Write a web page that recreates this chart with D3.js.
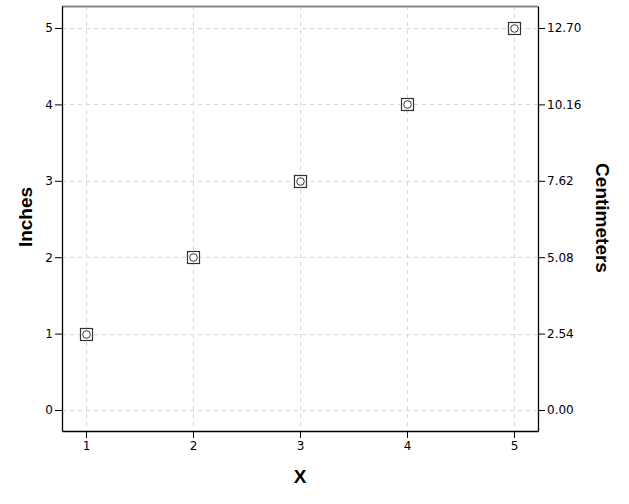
<!DOCTYPE html>
<html>
<head>
<meta charset="utf-8">
<script src="https://cdn.jsdelivr.net/npm/d3@7"></script>
<style>
  body { margin: 0; background: #fff; }
  .tick text { font-family: "DejaVu Sans", sans-serif; font-size: 12px; fill: #000; }
  .title { font-family: "Liberation Sans", Arial, sans-serif; font-size: 19px; font-weight: bold; fill: #000; }
</style>
</head>
<body>
<div id="chart"></div>
<script>
var xValues = [1, 2, 3, 4, 5];
var inches = [1, 2, 3, 4, 5];
var xTicks = [1, 2, 3, 4, 5];
var inchTicks = [0, 1, 2, 3, 4, 5];
var cmTicks = [0, 2.54, 5.08, 7.62, 10.16, 12.70];

var width = 629, height = 504;
var margin = { top: 6, right: 91, bottom: 73, left: 62 };
var w = width - margin.left - margin.right,
    h = height - margin.top - margin.bottom;

var svg = d3.select("#chart")
    .append("svg")
    .attr("width", width)
    .attr("height", height);

var g = svg.append("g")
    .attr("transform", `translate(${margin.left}, ${margin.top})`);

var x = d3.scaleLinear().domain([0.776, 5.224]).range([0, w]);
var y = d3.scaleLinear().domain([-0.275, 5.288]).range([h, 0]);
var y2 = d3.scaleLinear().domain([-0.275 * 2.54, 5.288 * 2.54]).range([h, 0]);

// grid
g.append("g").selectAll("line")
    .data(inchTicks)
    .join("line")
    .attr("x1", 0).attr("x2", w)
    .attr("y1", d => Math.round(y(d)) + 0.5)
    .attr("y2", d => Math.round(y(d)) + 0.5)
    .attr("stroke", "#d8d8d8")
    .attr("stroke-dasharray", "4,4");
g.append("g").selectAll("line")
    .data(xTicks)
    .join("line")
    .attr("y1", 0).attr("y2", h)
    .attr("x1", d => Math.round(x(d)) + 0.5)
    .attr("x2", d => Math.round(x(d)) + 0.5)
    .attr("stroke", "#d8d8d8")
    .attr("stroke-dasharray", "4,4");

// frame top
g.append("line").attr("x1", 0).attr("x2", w).attr("y1", 0.5).attr("y2", 0.5)
    .attr("stroke", "#888").attr("stroke-width", 2);

var xAxis = g.append("g")
    .attr("transform", `translate(0, ${h})`)
    .call(d3.axisBottom(x).tickValues(xTicks).tickFormat(d3.format("d")).tickSize(7).tickSizeOuter(0).tickPadding(3));
var yAxis = g.append("g")
    .call(d3.axisLeft(y).tickValues(inchTicks).tickFormat(d3.format("d")).tickSize(7).tickSizeOuter(0).tickPadding(2));
var yAxis2 = g.append("g")
    .attr("transform", `translate(${w}, 0)`)
    .call(d3.axisRight(y2).tickValues(cmTicks).tickFormat(d3.format(".2f")).tickSize(7).tickSizeOuter(0).tickPadding(2));

[xAxis, yAxis, yAxis2].forEach(function (a) {
    a.selectAll("path.domain").attr("stroke", "#000").attr("stroke-width", 1.3);
    a.selectAll(".tick line").attr("stroke", "#000");
});

// points
var pts = g.append("g").selectAll("g")
    .data(xValues)
    .join("g")
    .attr("transform", (d, i) => `translate(${Math.round(x(d)) + 0.5}, ${Math.round(y(inches[i])) + 0.5})`);
pts.append("rect")
    .attr("x", -6).attr("y", -6).attr("width", 12).attr("height", 12)
    .attr("fill", "#fff").attr("stroke", "#333").attr("stroke-width", 1.2);
pts.append("circle")
    .attr("r", 3.8)
    .attr("fill", "none").attr("stroke", "#333").attr("stroke-width", 1);

// titles
svg.append("text").attr("class", "title")
    .attr("x", margin.left + w / 2).attr("y", 483)
    .attr("text-anchor", "middle").text("X");
svg.append("text").attr("class", "title")
    .attr("transform", `translate(32, ${margin.top + 211}) rotate(-90)`)
    .attr("text-anchor", "middle").text("Inches");
svg.append("text").attr("class", "title")
    .attr("transform", `translate(596, ${margin.top + 212}) rotate(90)`)
    .attr("text-anchor", "middle").text("Centimeters");
</script>
</body>
</html>
